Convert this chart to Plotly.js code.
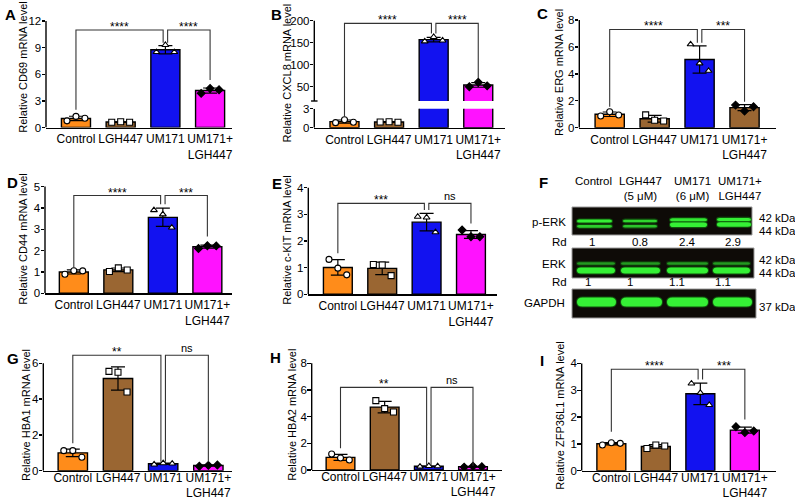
<!DOCTYPE html>
<html><head><meta charset="utf-8">
<script src="https://cdn.plot.ly/plotly-3.0.1.min.js"></script>
<style>body{margin:0;background:#fff;} #chart{width:795px;height:500px;}</style>
</head><body><div id="chart"></div>
<script>
// ---------- DATA ----------
const categories = ['Control', 'LGH447', 'UM171', 'UM171+<br>LGH447'];
// three replicates per group: Control, LGH447, UM171, UM171+LGH447
const cd69    = [[0.75, 1.25, 1.05], [0.6, 0.65, 0.6], [8.5, 9.3, 8.5], [3.85, 4.4, 4.25]];
const cxcl8   = [[0.8, 1.25, 0.85], [0.9, 0.95, 0.85], [153, 163, 155], [50, 60, 52]];
const erg     = [[0.87, 1.19, 0.94], [0.95, 0.55, 0.5], [6.2, 4.78, 4.23], [1.68, 1.24, 1.56]];
const cd44    = [[0.89, 1.06, 1.05], [1.02, 1.19, 1.09], [3.9, 3.7, 3.08], [2.1, 2.23, 2.22]];
const ckit    = [[1.31, 0.98, 0.73], [1.12, 1.1, 0.7], [2.91, 2.88, 2.33], [2.41, 2.16, 2.16]];
const hba1    = [[1.12, 1.12, 0.75], [5.55, 5.5, 4.4], [0.35, 0.42, 0.4], [0.25, 0.3, 0.32]];
const hba2    = [[1.2, 0.9, 0.75], [5.2, 4.6, 4.35], [0.25, 0.3, 0.28], [0.22, 0.28, 0.25]];
const zfp36l1 = [[0.96, 1.04, 1.02], [0.83, 0.96, 0.92], [3.25, 2.9, 2.45], [1.64, 1.42, 1.48]];

const sigA = ['****', '****'];
const sigB = ['****', '****'];
const sigC = ['****', '***'];
const sigD = ['****', '***'];
const sigE = ['***', 'ns'];
const sigG = ['**', 'ns'];
const sigH = ['**', 'ns'];
const sigI = ['****', '***'];

const blotLanes = ['Control', 'LGH447<br>(5 μM)', 'UM171<br>(6 μM)', 'UM171+<br>LGH447'];
const pErkRd = ['1', '0.8', '2.4', '2.9'];
const erkRd = ['1', '1', '1.1', '1.1'];

// ---------- STYLE / HELPERS ----------
const W = 795, H = 500;
const fx = p => p / W;
const fy = p => 1 - p / H;
const FONT = 'Liberation Sans, Arial, Helvetica, sans-serif';
const colors = ['#ff8c1a', '#9a6632', '#1212f0', '#ff12ff'];
const colorsC = ['#ff8c1a', '#9a6632', '#1212f0', '#9a6632'];
const symbols = ['circle', 'square', 'triangle-up', 'diamond'];
const symFill = ['#ffffff', '#ffffff', '#ffffff', '#000000'];
const jitter = [-0.2, 0, 0.2];
const xs = [0, 1, 2, 3];

const mean = a => a.reduce((s, v) => s + v, 0) / a.length;
const sd = a => { const m = mean(a); return Math.sqrt(a.reduce((s, v) => s + (v - m) ** 2, 0) / (a.length - 1)); };

const traces = [], shapes = [], annotations = [];
const layout = {
  width: W, height: H, margin: {l: 0, r: 0, t: 0, b: 0},
  paper_bgcolor: '#fff', plot_bgcolor: 'rgba(0,0,0,0)',
  showlegend: false, font: {family: FONT, color: '#000', size: 12},
};

function addData(xa, ya, reps, cols) {
  traces.push({
    type: 'bar', x: xs, y: reps.map(mean), width: 0.65, xaxis: xa, yaxis: ya,
    marker: {color: cols, line: {color: '#000', width: 1.4}},
    error_y: {type: 'data', array: reps.map(sd), visible: true, color: '#000', thickness: 1.2, width: 7},
    hoverinfo: 'skip'
  });
  reps.forEach((g, i) => {
    traces.push({
      type: 'scatter', mode: 'markers', xaxis: xa, yaxis: ya,
      x: g.map((_, j) => i + jitter[j]), y: g,
      marker: {symbol: symbols[i], size: 6, color: symFill[i], line: {color: '#000', width: 1.1}},
      hoverinfo: 'skip'
    });
  });
}

function axX(id, dom, range, anchor, standoff) {
  layout['xaxis' + id] = {
    domain: [fx(dom[0]), fx(dom[1])], range: range, anchor: anchor,
    tickvals: xs, ticktext: categories, ticks: '', showgrid: false, zeroline: false, tickangle: 0,
    showline: true, linecolor: '#000', linewidth: 1.4, showticklabels: true,
    ticklabelstandoff: standoff || 0,
    tickfont: {family: FONT, size: 12, color: '#000'}, fixedrange: true
  };
}
function axY(id, dom, range, ticks, anchor) {
  layout['yaxis' + id] = {
    domain: [fy(dom[1]), fy(dom[0])], range: range, anchor: anchor,
    tickvals: ticks, ticks: 'outside', ticklen: 3.5, tickwidth: 1.4, tickcolor: '#000',
    showline: false, showgrid: false, zeroline: false, ticklabelstandoff: -2, showticklabels: true,
    tickfont: {family: FONT, size: 11.5, color: '#000'}, fixedrange: true
  };
}
function yLine(xid, yid, y0, y1) {
  shapes.push({type: 'line', xref: 'x' + xid + ' domain', yref: 'y' + yid, x0: 0, x1: 0, y0: y0, y1: y1,
    line: {color: '#000', width: 1.4}});
}
function bracket(xid, yid, b, label) {
  const [xl, yl, xr, yr, yt] = b;
  shapes.push({type: 'path', xref: 'x' + xid, yref: 'y' + yid,
    path: `M ${xl},${yl} L ${xl},${yt} L ${xr},${yt} L ${xr},${yr}`,
    line: {color: '#333', width: 1.1}});
  const isNs = label === 'ns';
  annotations.push({xref: 'x' + xid, yref: 'y' + yid, x: (xl + xr) / 2, y: yt, text: label,
    showarrow: false, yanchor: 'middle', yshift: isNs ? 7 : 3,
    font: {family: FONT, size: isNs ? 11 : 12, color: '#000'}});
}
function yTitle(text, xpx, ypx) {
  annotations.push({xref: 'paper', yref: 'paper', x: fx(xpx), y: fy(ypx), text: text, textangle: -90,
    showarrow: false, xanchor: 'center', yanchor: 'middle', font: {family: FONT, size: 11, color: '#000'}});
}
function letter(t, xpx, ypx) {
  annotations.push({xref: 'paper', yref: 'paper', x: fx(xpx), y: fy(ypx), text: '<b>' + t + '</b>',
    showarrow: false, xanchor: 'left', yanchor: 'middle', font: {family: FONT, size: 15, color: '#000'}});
}

// ---------- STANDARD PANELS ----------
const panels = [
  {id: '', reps: cd69, cols: colors, xdom: [46, 232], xr: [-0.67, 3.49], ydom: [14, 127.5], yr: [0, 12.79],
   ticks: [0, 3, 6, 9, 12], sig: sigA, br: [[0, 1.99, 1.95, 9.56, 10.99], [2.05, 9.56, 3, 5.36, 10.99]],
   title: 'Relative CD69 mRNA level', t: [22.7, 67], L: ['A', 3, 14], so: 0},
  {id: '4', reps: erg, cols: colorsC, xdom: [579.3, 776], xr: [-0.676, 3.7], ydom: [12, 127.7], yr: [0, 8.6],
   ticks: [0, 2, 4, 6, 8], sig: sigC, br: [[0, 1.56, 1.95, 6.31, 7.3], [2.05, 6.31, 3, 1.93, 7.3]],
   title: 'Relative ERG mRNA level', t: [558.3, 72.7], L: ['C', 535, 13], so: 0},
  {id: '5', reps: cd44, cols: colors, xdom: [45, 232.3], xr: [-0.647, 3.56], ydom: [177, 293.3], yr: [0, 5.45],
   ticks: [0, 1, 2, 3, 4, 5], sig: sigD, br: [[0, 1.2, 1.95, 4.17, 4.58], [2.05, 4.17, 3, 2.66, 4.58]],
   title: 'Relative CD44 mRNA level', t: [22.7, 239], L: ['D', 5, 182], so: 0},
  {id: '6', reps: ckit, cols: colors, xdom: [308.3, 496.7], xr: [-0.666, 3.58], ydom: [177, 294.3], yr: [0, 4.4],
   ticks: [0, 1, 2, 3, 4], sig: sigE, br: [[0, 1.54, 1.95, 3.16, 3.41], [2.05, 3.16, 3, 2.66, 3.41]],
   title: 'Relative c-KIT mRNA level', t: [286.7, 240], L: ['E', 270, 183], so: 0},
  {id: '7', reps: hba1, cols: colors, xdom: [43.3, 232.3], xr: [-0.653, 3.53], ydom: [341, 470.7], yr: [0, 7.25],
   ticks: [0, 2, 4, 6], sig: sigG, br: [[0, 1.53, 1.95, 0.5, 6.45], [2.05, 0.5, 3, 0.5, 6.45]],
   title: 'Relative HBA1 mRNA level', t: [26, 415], L: ['G', 5, 358], so: -5},
  {id: '8', reps: hba2, cols: colors, xdom: [311.7, 501.7], xr: [-0.652, 3.65], ydom: [350, 470], yr: [0, 9.0],
   ticks: [0, 2, 4, 6, 8], sig: sigH, br: [[0, 1.63, 1.95, 0.32, 6.2], [2.05, 0.32, 3, 0.32, 6.2]],
   title: 'Relative HBA2 mRNA level', t: [291.7, 415], L: ['H', 268, 357], so: -5},
  {id: '9', reps: zfp36l1, cols: colors, xdom: [581.7, 776], xr: [-0.666, 3.7], ydom: [350, 470.7], yr: [0, 4.5],
   ticks: [0, 1, 2, 3, 4], sig: sigI, br: [[0, 1.45, 1.95, 3.4, 3.78], [2.05, 3.4, 3, 1.91, 3.78]],
   title: 'Relative ZFP36L1 mRNA level', t: [559.3, 415.5], L: ['I', 538, 360], so: -5},
];

panels.forEach(p => {
  const xa = 'x' + p.id, ya = 'y' + p.id;
  axX(p.id, p.xdom, p.xr, ya, p.so);
  axY(p.id, p.ydom, p.yr, p.ticks, xa);
  addData(xa, ya, p.reps, p.cols);
  yLine(p.id, p.id, 0, p.ticks[p.ticks.length - 1]);
  p.br.forEach((b, k) => bracket(p.id, p.id, b, p.sig[k]));
  yTitle(p.title, p.t[0], p.t[1]);
  letter(p.L[0], p.L[1], p.L[2]);
});

// ---------- PANEL B (broken axis: lower y2, upper y3, both on x2) ----------
const bX = [314.3, 505], bXr = [-0.677, 3.6];
const bLow = [108.7, 127.7], bLowR = [0, 3];
const bUp = [12, 101], bUpR = [17.5, 219.8];
axX('2', bX, bXr, 'y2', 0);
axY('2', bLow, bLowR, [0, 3], 'x2');
axY('3', bUp, bUpR, [50, 100, 150, 200], 'x2');
addData('x2', 'y2', cxcl8, colors);
addData('x2', 'y3', cxcl8, colors);
yLine('2', '2', 0, 3);
yLine('2', '3', bUpR[0], 200);
shapes.push({type: 'line', xref: 'x2 domain', yref: 'paper', x0: -0.017, x1: 0.017, y0: fy(bUp[1]), y1: fy(bUp[1]),
  line: {color: '#000', width: 1.4}});
const lowPx = v => bLow[1] - (v - bLowR[0]) / (bLowR[1] - bLowR[0]) * (bLow[1] - bLow[0]);
// bracket 1 spans the break: upper part on upper axis, leg continues down through the gap
bracket('2', '3', [0, bUpR[0], 1.95, 171, 194], sigB[0]);
shapes.push({type: 'line', xref: 'x2', yref: 'paper', x0: 0, x1: 0, y0: fy(lowPx(1.74)), y1: fy(bUp[1]),
  line: {color: '#333', width: 1.1}});
bracket('2', '3', [2.05, 171, 3, 69, 194], sigB[1]);
yTitle('Relative CXCL8 mRNA level', 286.5, 73);
letter('B', 269, 14);

// ---------- PANEL F (western blot) ----------
letter('F', 537, 182);
const lblFont = {family: FONT, size: 11.5, color: '#000'};
const laneCx = [593, 640, 692, 740];
blotLanes.forEach((t, i) => annotations.push({xref: 'paper', yref: 'paper', x: fx(laneCx[i]), y: fy(173),
  text: t, showarrow: false, xanchor: 'center', yanchor: 'top', font: lblFont}));
function txt(t, xpx, ypx, anchor) {
  annotations.push({xref: 'paper', yref: 'paper', x: fx(xpx), y: fy(ypx), text: t, showarrow: false,
    xanchor: anchor, yanchor: 'middle', font: lblFont});
}
function blotRect(x0, x1, y0, y1) {
  shapes.push({type: 'rect', xref: 'paper', yref: 'paper', x0: fx(x0), x1: fx(x1), y0: fy(y1), y1: fy(y0),
    fillcolor: '#0e0b07', line: {color: '#9a9a9a', width: 1}, layer: 'above'});
}
function bandPath(x0, x1, yc, h) {
  const yt = yc - h / 2, yb = yc + h / 2, r = Math.min(h / 2 + 1, (x1 - x0) / 4);
  const P = (x, y) => `${fx(x)},${fy(y)}`;
  return `M ${P(x0 + r, yt)} L ${P(x1 - r, yt)} Q ${P(x1, yt)} ${P(x1, yc)} Q ${P(x1, yb)} ${P(x1 - r, yb)} ` +
         `L ${P(x0 + r, yb)} Q ${P(x0, yb)} ${P(x0, yc)} Q ${P(x0, yt)} ${P(x0 + r, yt)} Z`;
}
function band(x0, x1, yc, h, bright) {
  shapes.push({type: 'path', xref: 'paper', yref: 'paper', path: bandPath(x0 - 1, x1 + 1, yc, h + 2.2),
    fillcolor: '#139013', opacity: 0.55 * bright, line: {width: 0}, layer: 'above'});
  shapes.push({type: 'path', xref: 'paper', yref: 'paper', path: bandPath(x0, x1, yc, h),
    fillcolor: '#35f035', opacity: bright, line: {width: 0}, layer: 'above'});
}
// blot 1 : p-ERK
blotRect(572, 752, 207, 235);
const l1 = [[577, 612], [623, 657], [670, 707], [717, 751]];
band(l1[0][0], l1[0][1], 221, 3, 1.0); band(l1[0][0], l1[0][1], 226.3, 2.8, 0.8);
band(l1[1][0], l1[1][1], 221, 2.6, 0.85); band(l1[1][0], l1[1][1], 226.3, 2.6, 0.75);
band(l1[2][0], l1[2][1], 219.8, 3, 0.95); band(l1[2][0], l1[2][1], 224.8, 4.6, 1.0);
band(l1[3][0], l1[3][1], 219.5, 3.2, 1.0); band(l1[3][0], l1[3][1], 224.5, 4.4, 1.0);
// blot 2 : ERK
blotRect(572, 754, 248, 278);
const l2 = [[577, 615], [621, 660], [667, 708], [713, 750]];
l2.forEach(l => { band(l[0], l[1], 263.5, 2.6, 0.55); band(l[0], l[1], 270.5, 6, 1.0); });
// blot 3 : GAPDH
blotRect(572, 756, 289, 318);
const l3 = [[577, 616], [621, 662], [667, 708], [713, 752]];
l3.forEach(l => band(l[0], l[1], 302, 9, 1.0));

txt('p-ERK', 568, 222, 'right');
txt('Rd', 569, 242, 'right');
const rd1x = [592, 640, 687, 733];
pErkRd.forEach((t, i) => txt(t, rd1x[i], 242, 'center'));
txt('ERK', 568, 264, 'right');
txt('Rd', 569, 282, 'right');
const rd2x = [588, 630, 677, 723];
erkRd.forEach((t, i) => txt(t, rd2x[i], 282, 'center'));
txt('GAPDH', 567, 303, 'right');
txt('42 kDa', 757, 218, 'left');
txt('44 kDa', 757, 231, 'left');
txt('42 kDa', 757, 260, 'left');
txt('44 kDa', 757, 273, 'left');
txt('37 kDa', 757, 307, 'left');

layout.shapes = shapes;
layout.annotations = annotations;
Plotly.newPlot('chart', traces, layout, {staticPlot: true, displayModeBar: false});
</script>
</body></html>
